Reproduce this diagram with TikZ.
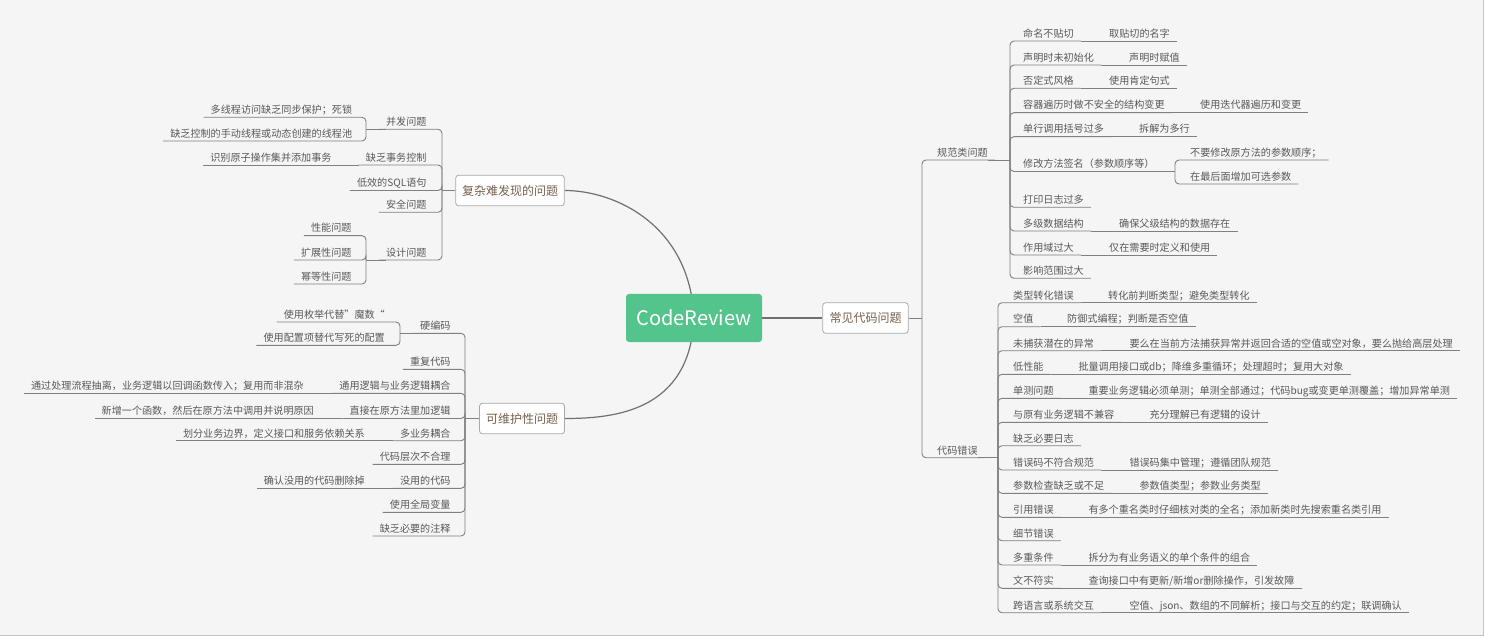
\documentclass[tikz,border=0pt]{standalone}
\usepackage{fontspec}
\setmainfont{Noto Sans CJK SC}
\usetikzlibrary{backgrounds}
\definecolor{bgc}{HTML}{F5F5F5}
\definecolor{bordc}{HTML}{C4C4C4}
\definecolor{lnc}{HTML}{808080}
\definecolor{curvec}{HTML}{707070}
\definecolor{leafc}{HTML}{595959}
\definecolor{boxtext}{HTML}{76604E}
\definecolor{boxdraw}{HTML}{A8A8A8}
\definecolor{rootc}{HTML}{52C48C}
\tikzset{
  leafnode/.style={inner sep=0pt, text height=8pt, text depth=3.5pt, font=\fontsize{10.1}{12}\selectfont, text=leafc},
  ln/.style={draw=lnc, line width=0.9pt},
  rc/.style={ln, rounded corners=4pt},
  topicbox/.style={draw=boxdraw, line width=0.8pt, fill=white, rounded corners=3pt, inner sep=0pt, minimum height=30.6pt, text=boxtext, font=\fontsize{12}{14}\selectfont},
  rootbox/.style={fill=rootc, rounded corners=3pt, minimum width=136pt, minimum height=48pt, text=white, font=\fontsize{20}{24}\selectfont, inner sep=0pt},
  mainln/.style={draw=curvec, line width=1.2pt}
}
\newcommand\rleaf[4]{\node[leafnode,anchor=south west] (#1) at (#2,#3) {#4};}
\newcommand\lleaf[4]{\node[leafnode,anchor=south east] (#1) at (#2,#3) {#4};}
\newcommand\rcon[2]{\draw[rc] (#1) |- ([xshift=7pt]#2.south east);}
\newcommand\lcon[2]{\draw[rc] (#1) |- ([xshift=-7pt]#2.south west);}
\newcommand\rchain[2]{\draw[ln] ([xshift=7pt]#1.south east) -- ([xshift=7pt]#2.south east);}
\newcommand\lchain[2]{\draw[ln] ([xshift=-7pt]#1.south west) -- ([xshift=-7pt]#2.south west);}
\begin{document}
\begin{tikzpicture}[x=1pt,y=-1pt]
\useasboundingbox (0,0) rectangle (1492,639);
\begin{pgfonlayer}{background}
\fill[white] (0,0) rectangle (1492,639);
\fill[bgc] (0,0) rectangle (1483,635);
\draw[bordc,line width=1pt] (0,635) -- (1483,635) -- (1483,0);
\end{pgfonlayer}

% main topics
\node[rootbox] (root) at (694,318) {CodeReview};
\node[topicbox, minimum width=85.6pt] (b1) at (865.5,318) {常见代码问题};
\node[topicbox, minimum width=108.6pt] (b2) at (510,190.5) {复杂难发现的问题};
\node[topicbox, minimum width=85pt] (b3) at (522,418.5) {可维护性问题};

\draw[mainln] (root.east) -- (b1.west);
\begin{pgfonlayer}{background}
\draw[mainln] (b2.east) .. controls (615,190.5) and (690,225) .. (root.center);
\draw[mainln] (b3.east) .. controls (615,418.5) and (690,411) .. (root.center);
\end{pgfonlayer}

% ===== right side =====
\coordinate (jA) at (922,318);
\draw[ln] (b1.east) -- (jA);
\rleaf{gf}{937}{160}{规范类问题}
\rleaf{dm}{937}{457.7}{代码错误}
\rcon{jA}{gf}
\rcon{jA}{dm}
\coordinate (jG) at (1010,160);
\draw[ln] (gf.south east) -- (jG);
\coordinate (jD) at (998,457.7);
\draw[ln] (dm.south east) -- (jD);

% children of 规范类问题
\rleaf{g1}{1023}{41}{命名不贴切}
\rleaf{g1c}{1109}{41}{取贴切的名字}
\rcon{jG}{g1} \rchain{g1}{g1c}
\rleaf{g2}{1023}{65}{声明时未初始化}
\rleaf{g2c}{1129}{65}{声明时赋值}
\rcon{jG}{g2} \rchain{g2}{g2c}
\rleaf{g3}{1023}{88.3}{否定式风格}
\rleaf{g3c}{1109}{88.3}{使用肯定句式}
\rcon{jG}{g3} \rchain{g3}{g3c}
\rleaf{g4}{1023}{112.7}{容器遍历时做不安全的结构变更}
\rleaf{g4c}{1200}{112.7}{使用迭代器遍历和变更}
\rcon{jG}{g4} \rchain{g4}{g4c}
\rleaf{g5}{1023}{136.7}{单行调用括号过多}
\rleaf{g5c}{1139}{136.7}{拆解为多行}
\rcon{jG}{g5} \rchain{g5}{g5c}
\rleaf{g6}{1023}{171.5}{修改方法签名（参数顺序等）}
\rcon{jG}{g6}
\coordinate (j6) at (1175,171.5);
\draw[ln] (g6.south east) -- (j6);
\rleaf{g6a}{1190}{160}{不要修改原方法的参数顺序；}
\rleaf{g6b}{1190}{184}{在最后面增加可选参数}
\rcon{j6}{g6a}
\rcon{j6}{g6b}
\rleaf{g7}{1023}{207.3}{打印日志过多}
\rcon{jG}{g7}
\rleaf{g8}{1023}{231}{多级数据结构}
\rleaf{g8c}{1119}{231}{确保父级结构的数据存在}
\rcon{jG}{g8} \rchain{g8}{g8c}
\rleaf{g9}{1023}{255}{作用域过大}
\rleaf{g9c}{1109}{255}{仅在需要时定义和使用}
\rcon{jG}{g9} \rchain{g9}{g9c}
\rleaf{g10}{1023}{278.3}{影响范围过大}
\rcon{jG}{g10}

% children of 代码错误
\rleaf{d1}{1013}{302.7}{类型转化错误}
\rleaf{d1c}{1108}{302.7}{转化前判断类型；避免类型转化}
\rcon{jD}{d1} \rchain{d1}{d1c}
\rleaf{d2}{1013}{326.7}{空值}
\rleaf{d2c}{1067}{326.7}{防御式编程；判断是否空值}
\rcon{jD}{d2} \rchain{d2}{d2c}
\rleaf{d3}{1013}{350.7}{未捕获潜在的异常}
\rleaf{d3c}{1129.3}{350.7}{要么在当前方法捕获异常并返回合适的空值或空对象，要么抛给高层处理}
\rcon{jD}{d3} \rchain{d3}{d3c}
\rleaf{d4}{1013}{374.3}{低性能}
\rleaf{d4c}{1078.3}{374.3}{批量调用接口或db；降维多重循环；处理超时；复用大对象}
\rcon{jD}{d4} \rchain{d4}{d4c}
\rleaf{d5}{1013}{398.3}{单测问题}
\rleaf{d5c}{1088.3}{398.3}{重要业务逻辑必须单测；单测全部通过；代码bug或变更单测覆盖；增加异常单测}
\rcon{jD}{d5} \rchain{d5}{d5c}
\rleaf{d6}{1013}{422.3}{与原有业务逻辑不兼容}
\rleaf{d6c}{1149.3}{422.3}{充分理解已有逻辑的设计}
\rcon{jD}{d6} \rchain{d6}{d6c}
\rleaf{d7}{1013}{445.7}{缺乏必要日志}
\rcon{jD}{d7}
\rleaf{d8}{1013}{470}{错误码不符合规范}
\rleaf{d8c}{1129.3}{470}{错误码集中管理；遵循团队规范}
\rcon{jD}{d8} \rchain{d8}{d8c}
\rleaf{d9}{1013}{493.3}{参数检查缺乏或不足}
\rleaf{d9c}{1139.3}{493.3}{参数值类型；参数业务类型}
\rcon{jD}{d9} \rchain{d9}{d9c}
\rleaf{d10}{1013}{517.3}{引用错误}
\rleaf{d10c}{1088.3}{517.3}{有多个重名类时仔细核对类的全名；添加新类时先搜索重名类引用}
\rcon{jD}{d10} \rchain{d10}{d10c}
\rleaf{d11}{1013}{540.7}{细节错误}
\rcon{jD}{d11}
\rleaf{d12}{1013}{565}{多重条件}
\rleaf{d12c}{1088.3}{565}{拆分为有业务语义的单个条件的组合}
\rcon{jD}{d12} \rchain{d12}{d12c}
\rleaf{d13}{1013}{588.3}{文不符实}
\rleaf{d13c}{1088.3}{588.3}{查询接口中有更新/新增or删除操作，引发故障}
\rcon{jD}{d13} \rchain{d13}{d13c}
\rleaf{d14}{1013}{612.7}{跨语言或系统交互}
\rleaf{d14c}{1129.3}{612.7}{空值、json、数组的不同解析；接口与交互的约定；联调确认}
\rcon{jD}{d14} \rchain{d14}{d14c}

% ===== left upper: 复杂难发现的问题 =====
\coordinate (jF) at (442,190.5);
\draw[ln] (b2.west) -- (jF);
\lleaf{f1}{426.7}{129.3}{并发问题}
\lcon{jF}{f1}
\coordinate (jf1) at (366,129.3);
\draw[ln] (f1.south west) -- (jf1);
\lleaf{f1a}{352.3}{117.3}{多线程访问缺乏同步保护；死锁}
\lleaf{f1b}{352.3}{141}{缺乏控制的手动线程或动态创建的线程池}
\lcon{jf1}{f1a}
\lcon{jf1}{f1b}
\lleaf{f2}{426.7}{165}{缺乏事务控制}
\lleaf{f2c}{331.7}{165}{识别原子操作集并添加事务}
\lcon{jF}{f2} \lchain{f2}{f2c}
\lleaf{f3}{426.7}{190.5}{低效的SQL语句}
\lcon{jF}{f3}
\lleaf{f4}{426.7}{212.3}{安全问题}
\lcon{jF}{f4}
\lleaf{f5}{426.7}{260}{设计问题}
\lcon{jF}{f5}
\coordinate (jf5) at (366,260);
\draw[ln] (f5.south west) -- (jf5);
\lleaf{f5a}{351.7}{235.7}{性能问题}
\lleaf{f5b}{351.7}{260}{扩展性问题}
\lleaf{f5c}{351.7}{284}{幂等性问题}
\lcon{jf5}{f5a}
\lcon{jf5}{f5b}
\lcon{jf5}{f5c}

% ===== left lower: 可维护性问题 =====
\coordinate (jM) at (465,418.5);
\draw[ln] (b3.west) -- (jM);
\lleaf{m1}{450.7}{333.3}{硬编码}
\lcon{jM}{m1}
\coordinate (jm1) at (400,333.3);
\draw[ln] (m1.south west) -- (jm1);
\lleaf{m1a}{385}{322}{使用枚举代替”魔数“}
\lleaf{m1b}{385}{345.3}{使用配置项替代写死的配置}
\lcon{jm1}{m1a}
\lcon{jm1}{m1b}
\lleaf{m2}{450.7}{369.3}{重复代码}
\lcon{jM}{m2}
\lleaf{m3}{450.7}{393.3}{通用逻辑与业务逻辑耦合}
\lleaf{m3c}{304}{393.3}{通过处理流程抽离，业务逻辑以回调函数传入；复用而非混杂}
\lcon{jM}{m3} \lchain{m3}{m3c}
\lleaf{m4}{450.7}{418.5}{直接在原方法里加逻辑}
\lleaf{m4c}{314}{418.5}{新增一个函数，然后在原方法中调用并说明原因}
\lcon{jM}{m4} \lchain{m4}{m4c}
\lleaf{m5}{450.7}{440.7}{多业务耦合}
\lleaf{m5c}{365}{440.7}{划分业务边界，定义接口和服务依赖关系}
\lcon{jM}{m5} \lchain{m5}{m5c}
\lleaf{m6}{450.7}{464.3}{代码层次不合理}
\lcon{jM}{m6}
\lleaf{m7}{450.7}{488.3}{没用的代码}
\lleaf{m7c}{365}{488.3}{确认没用的代码删除掉}
\lcon{jM}{m7} \lchain{m7}{m7c}
\lleaf{m8}{450.7}{512.3}{使用全局变量}
\lcon{jM}{m8}
\lleaf{m9}{450.7}{536}{缺乏必要的注释}
\lcon{jM}{m9}
\end{tikzpicture}
\end{document}
